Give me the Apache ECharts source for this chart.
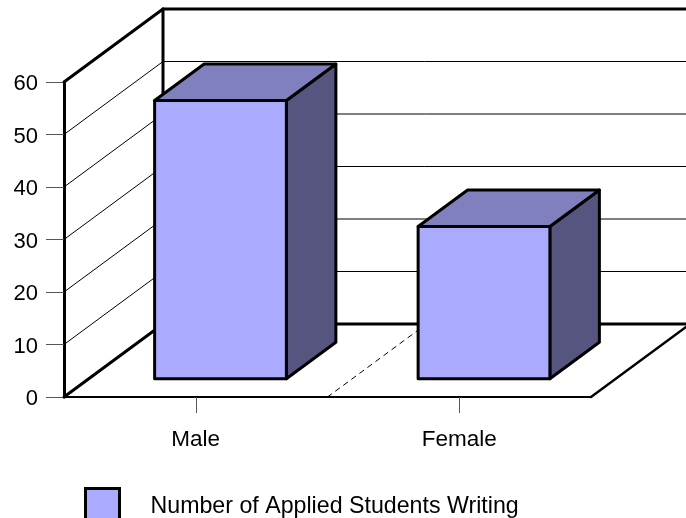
<!DOCTYPE html>
<html>
<head>
<meta charset="utf-8">
<style>html,body{margin:0;padding:0;background:#fff}#chart{width:686px;height:518px}</style>
<script src="https://cdn.jsdelivr.net/npm/echarts@6/dist/echarts.min.js"></script>
</head>
<body>
<div id="chart"></div>
<script>
const categories = ['Male', 'Female'];
const writingStudents = [53, 29];
const valueTicks = [0, 10, 20, 30, 40, 50, 60];
const seriesName = 'Number of Applied Students Writing';

// Oblique projection: how far a point moves on screen from the front to the back of the floor.
const DEPTH_X = 99;
const DEPTH_Y = -73;
const INK = '#000';
const FRONT = '#aaaaff';
const TOP = '#8080bf';
const SIDE = '#555580';
const FONT = '"Liberation Sans", Arial, sans-serif';
const HEAVY = 3;

const chart = echarts.init(document.getElementById('chart'), null, { renderer: 'canvas' });

function segment(x1, y1, x2, y2, lineWidth, lineDash) {
  return {
    type: 'line',
    shape: { x1, y1, x2, y2 },
    style: { stroke: INK, lineWidth, lineDash: lineDash || null, lineCap: 'round' }
  };
}

function face(points, fill) {
  return {
    type: 'polygon',
    shape: { points },
    style: { fill, stroke: INK, lineWidth: HEAVY, lineJoin: 'round' }
  };
}

// Floor, wall outlines and the dashed divider between the two categories.
function renderFrame(params, api) {
  const sys = params.coordSys;
  const left = sys.x;
  const right = sys.x + sys.width;
  const zero = api.coord([0, 0])[1];
  const top = api.coord([0, valueTicks[valueTicks.length - 1]])[1];
  const mid = sys.x + sys.width / 2;
  return {
    type: 'group',
    children: [
      segment(mid, zero, mid + DEPTH_X, zero + DEPTH_Y, 1, [5, 5]),
      segment(left, zero, left + DEPTH_X, zero + DEPTH_Y, HEAVY),
      segment(left + DEPTH_X, zero + DEPTH_Y, right + DEPTH_X, zero + DEPTH_Y, HEAVY),
      segment(right, zero, right + DEPTH_X, zero + DEPTH_Y, 2.4),
      segment(left + DEPTH_X, top + DEPTH_Y, left + DEPTH_X, zero + DEPTH_Y, HEAVY),
      segment(left, top, left + DEPTH_X, top + DEPTH_Y, HEAVY),
      segment(left + DEPTH_X, top + DEPTH_Y, right + DEPTH_X, top + DEPTH_Y, HEAVY)
    ]
  };
}

// One gridline per value tick, running across the left wall and along the back wall.
function renderGridline(params, api) {
  const sys = params.coordSys;
  const y = api.coord([0, api.value(1)])[1];
  const left = sys.x;
  const right = sys.x + sys.width;
  return {
    type: 'group',
    children: [
      segment(left, y, left + DEPTH_X, y + DEPTH_Y, 1),
      segment(left + DEPTH_X, y + DEPTH_Y, right + DEPTH_X, y + DEPTH_Y, 1)
    ]
  };
}

// A box standing on the floor: half a band wide, half the floor deep, centred in both.
function renderBox(params, api) {
  const base = api.coord([api.value(0), 0]);
  const head = api.coord([api.value(0), api.value(1)]);
  const band = api.size([1, 0])[0];
  const x0 = base[0] - band / 4 + DEPTH_X * 0.25;
  const x1 = x0 + band / 2;
  const yb = base[1] + DEPTH_Y * 0.25;
  const yt = head[1] + DEPTH_Y * 0.25;
  const dx = DEPTH_X * 0.5;
  const dy = DEPTH_Y * 0.5;
  return {
    type: 'group',
    children: [
      face([[x1, yt], [x1 + dx, yt + dy], [x1 + dx, yb + dy], [x1, yb]], SIDE),
      face([[x0, yt], [x0 + dx, yt + dy], [x1 + dx, yt + dy], [x1, yt]], TOP),
      face([[x0, yt], [x1, yt], [x1, yb], [x0, yb]], FRONT)
    ]
  };
}

chart.setOption({
  animation: false,
  backgroundColor: '#fff',
  textStyle: { fontFamily: FONT },
  grid: { left: 64, right: 95, top: 82, bottom: 121, containLabel: false },
  legend: {
    show: true,
    data: [seriesName],
    left: 84,
    top: 487,
    padding: 0,
    itemWidth: 34,
    itemHeight: 36,
    icon: 'rect',
    itemStyle: { color: FRONT, borderColor: INK, borderWidth: HEAVY },
    textStyle: { fontFamily: FONT, fontSize: 23.2, color: INK, padding: [0, 0, 2, 26] }
  },
  xAxis: {
    type: 'category',
    data: categories,
    axisLine: { show: true, lineStyle: { color: INK, width: 2 } },
    axisTick: { show: true, alignWithLabel: true, length: 16, lineStyle: { color: '#555', width: 1 } },
    axisLabel: { fontFamily: FONT, fontSize: 22.5, color: INK, margin: 31 },
    splitLine: { show: false }
  },
  yAxis: {
    type: 'value',
    min: 0,
    max: 60,
    interval: 10,
    axisLine: { show: true, lineStyle: { color: INK, width: HEAVY } },
    axisTick: { show: true, length: 18, lineStyle: { color: '#555', width: 1 } },
    axisLabel: {
      color: INK,
      margin: 26,
      formatter: '{n|{value}}',
      rich: { n: { fontFamily: FONT, fontSize: 22, color: INK, padding: [4, 0, 0, 0] } }
    },
    splitLine: { show: false }
  },
  series: [
    {
      type: 'custom',
      name: 'gridlines',
      silent: true,
      clip: false,
      renderItem: renderGridline,
      encode: { x: 0, y: 1 },
      data: valueTicks.slice(1, -1).map(v => [0, v])
    },
    {
      type: 'custom',
      name: 'frame',
      silent: true,
      clip: false,
      renderItem: renderFrame,
      encode: { x: 0, y: 1 },
      data: [[0, 0]]
    },
    {
      type: 'custom',
      name: seriesName,
      clip: false,
      itemStyle: { color: FRONT },
      renderItem: renderBox,
      encode: { x: 0, y: 1 },
      data: writingStudents.map((v, i) => [i, v])
    }
  ]
});
</script>
</body>
</html>
